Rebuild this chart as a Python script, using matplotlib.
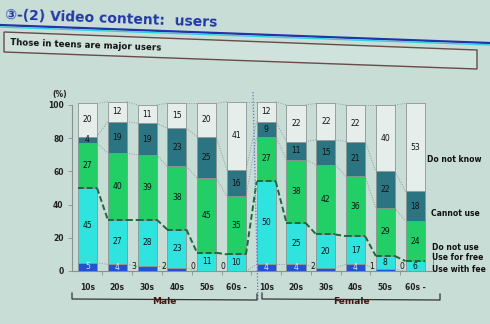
import matplotlib
matplotlib.use("Agg")
import matplotlib.pyplot as plt
from matplotlib.lines import Line2D
from matplotlib.patches import Polygon
import numpy as np

# Survey shares (%) by gender and age group
ages = ["10s", "20s", "30s", "40s", "50s", "60s -"]
groups = ["Male", "Female"]

fee_m = [5, 4, 3, 2, 0, 0]
free_m = [45, 27, 28, 23, 11, 10]
notuse_m = [27, 40, 39, 38, 45, 35]
cannot_m = [4, 19, 19, 23, 25, 16]
dontknow_m = [20, 12, 11, 15, 20, 41]

fee_f = [4, 4, 2, 4, 1, 0]
free_f = [50, 25, 20, 17, 8, 6]
notuse_f = [27, 38, 42, 36, 29, 24]
cannot_f = [9, 11, 15, 21, 22, 18]
dontknow_f = [12, 22, 22, 22, 40, 53]

series_names = ["Use with fee", "Use for free", "Do not use", "Cannot use", "Do not know"]
series = [fee_m + fee_f, free_m + free_f, notuse_m + notuse_f,
          cannot_m + cannot_f, dontknow_m + dontknow_f]
colors = ["#2352d6", "#2fe3df", "#22cf66", "#2b7482", "#e6eeeb"]

W, H = 490, 324
BG = "#c8ddd5"
fig = plt.figure(figsize=(W / 100, H / 100), dpi=100, facecolor=BG)
plt.rcParams["font.family"] = ["DejaVu Sans", "Noto Sans CJK JP"]


def fx(x):
    return x / W


def fy(y):
    return 1 - y / H


# Header: title, underline and subtitle box (slightly tilted)
fig.text(fx(5), fy(15), "③-(2) Video content:  users", fontsize=10,
         color="#2238a8", fontweight="bold", rotation=-2.1,
         ha="left", va="center", rotation_mode="anchor")
fig.add_artist(Line2D([fx(0), fx(490)], [fy(25), fy(43)], color="#2233aa", lw=1.6))
fig.add_artist(Line2D([fx(0), fx(490)], [fy(27), fy(45)], color="#30d0e0", lw=1.0))
box = Polygon([(fx(4), fy(32)), (fx(477), fy(50)), (fx(477), fy(69)), (fx(4), fy(52))],
              closed=True, facecolor="#cfe2db", edgecolor="#6a4a4a", lw=1.0,
              transform=fig.transFigure)
fig.add_artist(box)
fig.text(fx(10), fy(43), "Those in teens are major users", fontsize=6.2,
         fontweight="bold", color="#111111", rotation=-2.1,
         ha="left", va="center", rotation_mode="anchor")

# Plot area
ax = fig.add_axes([fx(72), fy(271), fx(433) - fx(72), fy(105) - fy(271)])
ax.set_facecolor("none")
n = len(series[0])
x = np.arange(n)
bw = 0.64
ax.set_xlim(-0.52, 11.6)
ax.set_ylim(0, 100)

bottoms = np.zeros(n)
tops = []
for vals, col in zip(series, colors):
    vals = np.array(vals, dtype=float)
    ax.bar(x, vals, bw, bottom=bottoms, color=col, edgecolor="#8a9494",
           lw=0.6, zorder=3, clip_on=False)
    for i in range(n):
        v = vals[i]
        cy = bottoms[i] + v / 2
        if col == colors[0] and v < 4:
            ax.text(x[i] - bw / 2 - 0.05, 3, f"{int(v)}", ha="right", va="center",
                    fontsize=5.5, color="#111111", zorder=5)
        elif v > 0:
            tc = "#dfe8ff" if col == colors[0] else "#111111"
            ax.text(x[i], cy, f"{int(v)}", ha="center", va="center",
                    fontsize=5.5, color=tc, zorder=5)
    bottoms = bottoms + vals
    tops.append(bottoms.copy())

# Connector lines between neighbouring bars
for k, t in enumerate(tops):
    for i in range(n - 1):
        xs = [x[i] + bw / 2, x[i + 1] - bw / 2]
        ys = [t[i], t[i + 1]]
        if k == 1:
            ax.plot(xs, ys, color="#1c6a3a", lw=1.4, ls=(0, (3, 1.5)), zorder=4,
                    clip_on=False)
        else:
            ax.plot(xs, ys, color="#8f9a9a", lw=0.7, ls=(0, (1, 1.5)), zorder=2,
                    clip_on=False)
    if k == 1:
        for i in range(n):
            ax.plot([x[i] - bw / 2, x[i] + bw / 2], [t[i], t[i]], color="#1c6a3a",
                    lw=1.4, ls=(0, (3, 1.5)), zorder=4, clip_on=False)

# Axes styling
for s in ["top", "right"]:
    ax.spines[s].set_visible(False)
for s in ["left", "bottom"]:
    ax.spines[s].set_color("#8a9090")
    ax.spines[s].set_linewidth(0.8)
ax.set_yticks([0, 20, 40, 60, 80, 100])
ax.set_yticklabels(["0", "20", "40", "60", "80", "100"], fontsize=5.5,
                   fontweight="bold", color="#222222")
ax.tick_params(axis="y", length=3, width=0.6, color="#8a9090", pad=3)
ax.set_xticks(x)
ax.set_xticklabels(ages + ages, fontsize=5.5, fontweight="bold", color="#222222")
ax.tick_params(axis="x", length=0, pad=9)
ax.set_xticks(np.arange(n - 1) + 0.5, minor=True)
ax.tick_params(axis="x", which="minor", length=3, width=0.6, color="#8a9090")
fig.text(fx(52), fy(95), "(%)", fontsize=5.5, fontweight="bold", color="#222222",
         va="center")

# Legend labels at the right of the female 60s bar
legend_pos = [(427, 159), (431, 214), (432, 247), (432, 258), (432, 269)]
for name, (px, py) in zip(series_names[::-1], legend_pos):
    fig.text(fx(px), fy(py), name, fontsize=5.5, fontweight="bold",
             color="#111111", va="center", ha="left")
fig.add_artist(Line2D([fx(433), fx(433)], [fy(252), fy(271)], color="#8a9090", lw=0.7))

# Gender separator and brackets
fig.add_artist(Line2D([fx(253), fx(258)], [fy(92), fy(300)], color="#6070c8",
                      lw=0.9, ls=(0, (1, 1.5))))
for (x0, x1), g in zip([(72, 257), (262, 440)], groups):
    fig.add_artist(Line2D([fx(x0), fx(x0), fx(x1), fx(x1)],
                          [fy(293), fy(299), fy(300), fy(294)],
                          color="#333333", lw=0.9))
    fig.text(fx((x0 + x1) / 2), fy(301), g, fontsize=6.5, fontweight="bold",
             color="#4a1414", ha="center", va="center")

fig.savefig("out.png", dpi=100, facecolor=BG)
